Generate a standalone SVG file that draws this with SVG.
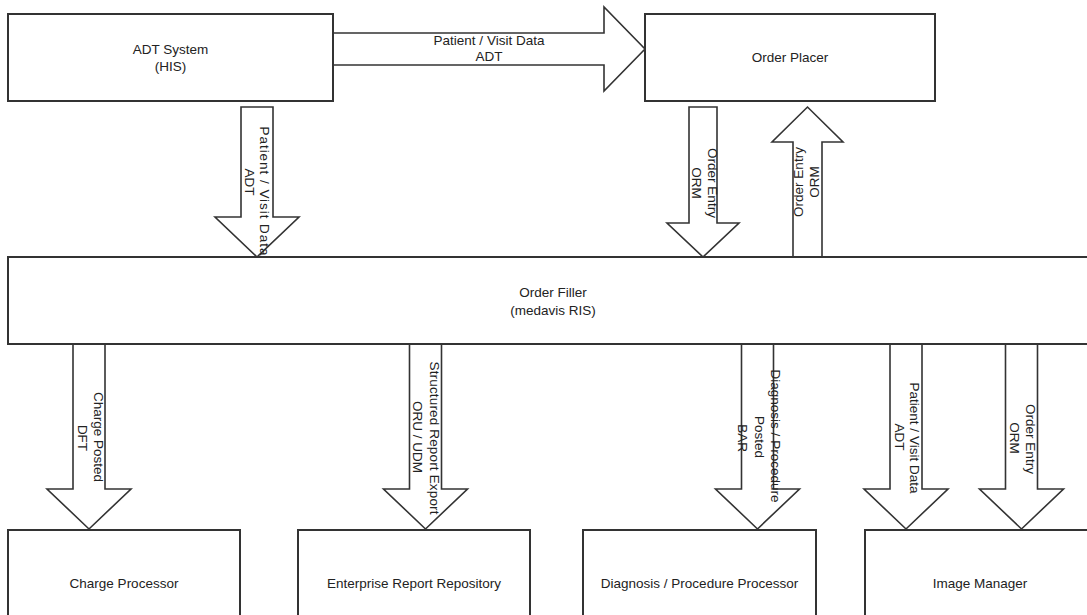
<svg xmlns="http://www.w3.org/2000/svg" width="1087" height="615" viewBox="0 0 1087 615">
<style>
.box{fill:#fff;stroke:#333;stroke-width:2}
.arr{fill:#fff;stroke:#333;stroke-width:1.6;stroke-linejoin:miter}
text{font-family:"Liberation Sans",Arial,sans-serif;font-size:13.5px;fill:#222;text-anchor:middle}
</style>
<rect width="1087" height="615" fill="#fff"/>
<g id="connectors">
<polygon class="arr" points="333,33 604,33 604,7 645,49 604,91 604,65 333,65"/>
<text x="489" y="45">Patient / Visit Data</text>
<text x="489" y="61">ADT</text>
<polygon class="arr" points="241,107 273,107 273,217 299,217 257,257 215,217 241,217"/>
<text transform="translate(260,191) rotate(90)" textLength="129" lengthAdjust="spacing">Patient / Visit Data</text>
<text transform="translate(245,182) rotate(90)">ADT</text>
<polygon class="arr" points="689,107 717,107 717,223 739,223 703,257 667,223 689,223"/>
<text transform="translate(708,183) rotate(90)">Order Entry</text>
<text transform="translate(692,183) rotate(90)">ORM</text>
<polygon class="arr" points="793,257 793,142 772,142 807.5,107 843,142 822,142 822,257"/>
<text transform="translate(803,182) rotate(-90)">Order Entry</text>
<text transform="translate(819,182) rotate(-90)">ORM</text>
<polygon class="arr" points="73,344 105,344 105,489 131,489 89,529 47,489 73,489"/>
<text transform="translate(94,437) rotate(90)">Charge Posted</text>
<text transform="translate(78,438) rotate(90)">DFT</text>
<polygon class="arr" points="409.5,344 441.5,344 441.5,489 467.5,489 425.5,529 383.5,489 409.5,489"/>
<text transform="translate(430,438) rotate(90)" textLength="153" lengthAdjust="spacing">Structured Report Export</text>
<text transform="translate(413,437) rotate(90)">ORU / UDM</text>
<polygon class="arr" points="741.5,344 773.5,344 773.5,489 799.5,489 757.5,529 715.5,489 741.5,489"/>
<text transform="translate(771,436) rotate(90)">Diagnosis / Procedure</text>
<text transform="translate(755,437) rotate(90)">Posted</text>
<text transform="translate(738,438) rotate(90)">BAR</text>
<polygon class="arr" points="890,344 922,344 922,489 948,489 906,529 864,489 890,489"/>
<text transform="translate(910,438) rotate(90)">Patient / Visit Data</text>
<text transform="translate(895,437) rotate(90)">ADT</text>
<polygon class="arr" points="1005.5,344 1037.5,344 1037.5,489 1063.5,489 1021.5,529 979.5,489 1005.5,489"/>
<text transform="translate(1026,439) rotate(90)">Order Entry</text>
<text transform="translate(1010,438) rotate(90)">ORM</text>
</g>
<g id="adt-system">
<rect class="box" x="8" y="14" width="325" height="87"/>
<text x="170.5" y="54">ADT System</text>
<text x="170.5" y="71">(HIS)</text>
</g>
<g id="order-placer">
<rect class="box" x="645" y="14" width="290" height="87"/>
<text x="790" y="62">Order Placer</text>
</g>
<g id="order-filler">
<rect class="box" x="8" y="257" width="1090" height="87"/>
<text x="553" y="297">Order Filler</text>
<text x="553" y="315">(medavis RIS)</text>
</g>
<g id="charge-processor">
<rect class="box" x="8" y="530" width="232" height="95"/>
<text x="124" y="588">Charge Processor</text>
</g>
<g id="enterprise-report-repository">
<rect class="box" x="298" y="530" width="232" height="95"/>
<text x="414" y="588">Enterprise Report Repository</text>
</g>
<g id="diagnosis-procedure-processor">
<rect class="box" x="583" y="530" width="233" height="95"/>
<text x="699.5" y="588">Diagnosis / Procedure Processor</text>
</g>
<g id="image-manager">
<rect class="box" x="865" y="530" width="230" height="95"/>
<text x="980" y="588">Image Manager</text>
</g>
</svg>
